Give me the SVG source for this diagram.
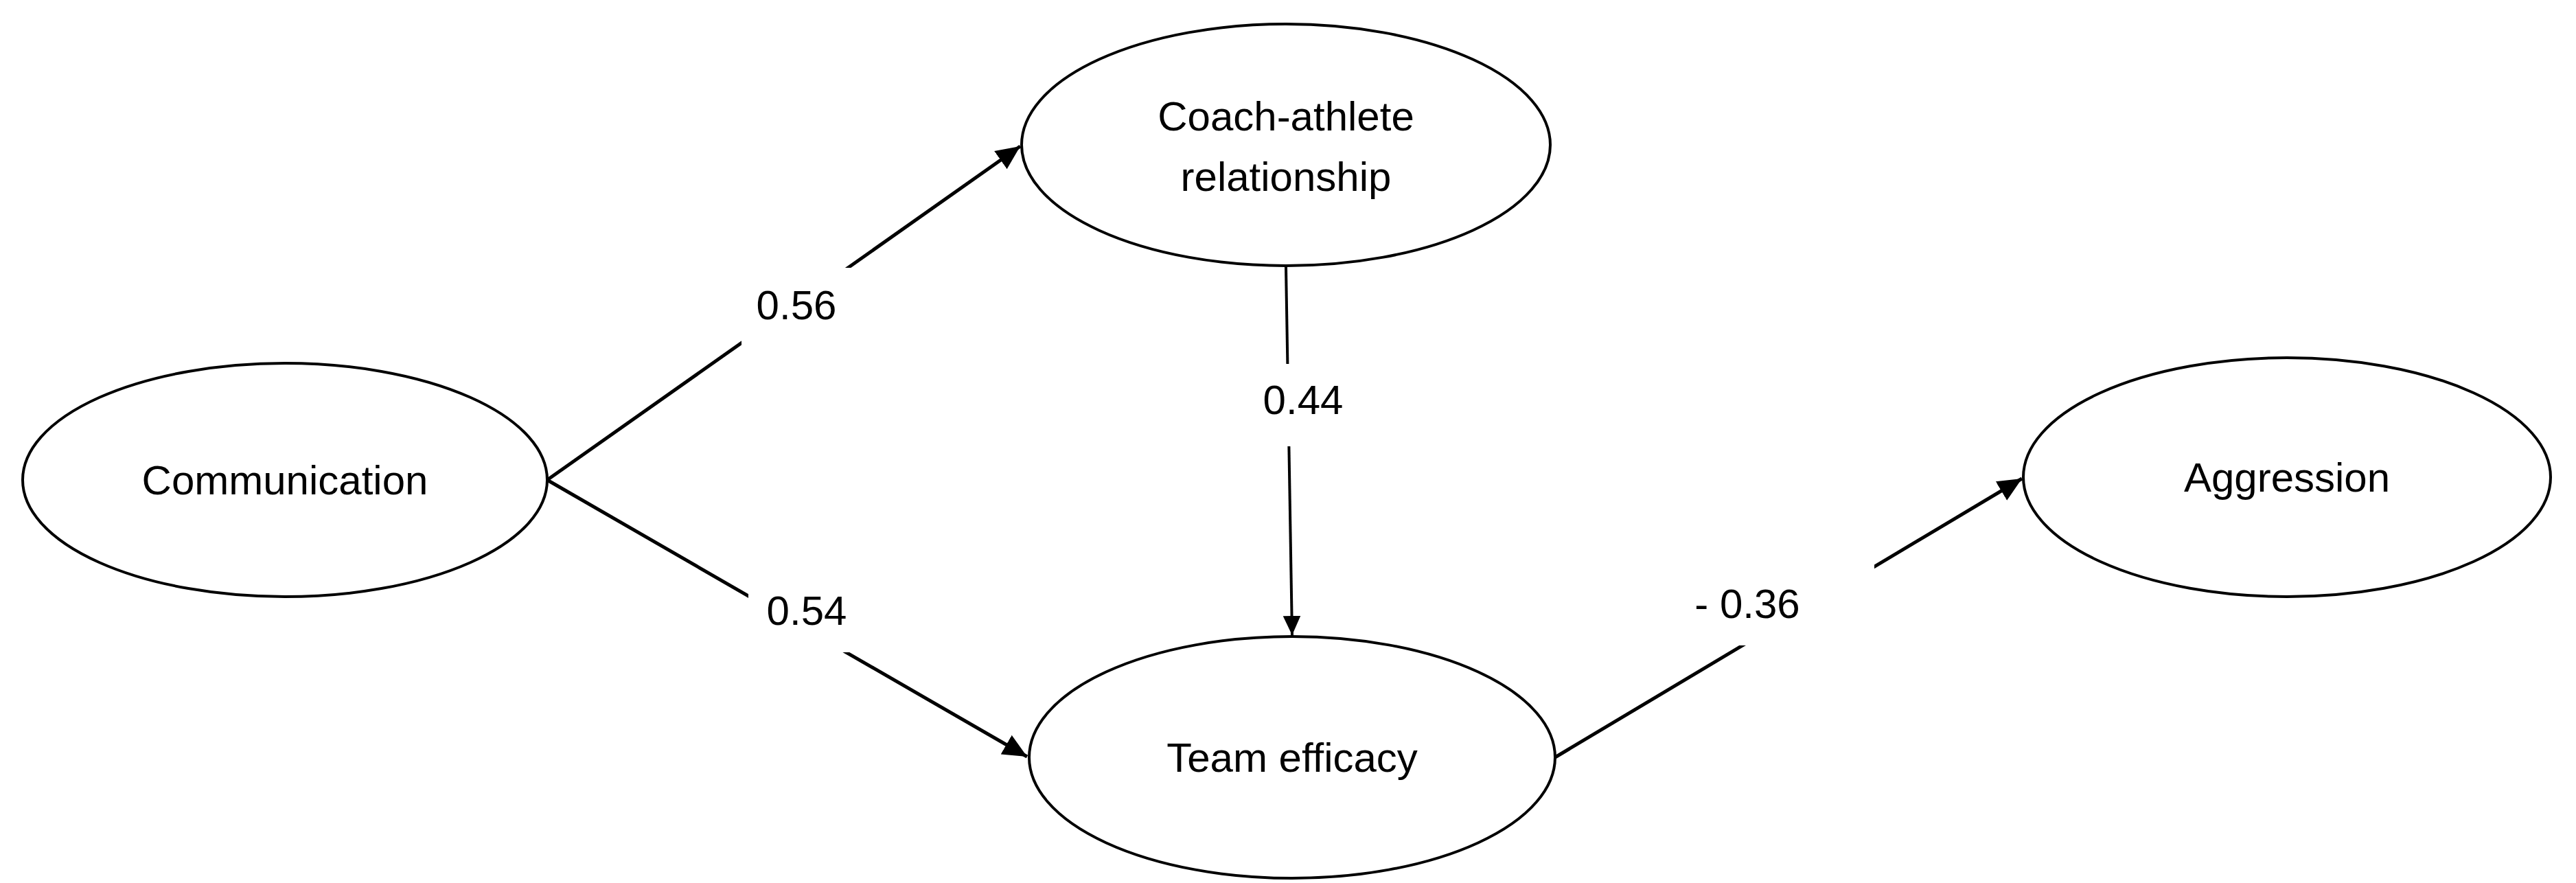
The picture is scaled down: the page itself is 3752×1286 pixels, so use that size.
<svg xmlns="http://www.w3.org/2000/svg" width="3752" height="1286" viewBox="0 0 3752 1286">
<defs>
<marker id="ah" markerWidth="8" markerHeight="8" refX="7" refY="4" orient="auto" markerUnits="strokeWidth"><path d="M0,0.8 L7,4 L0,7.2 z" fill="#000"/></marker>
<style>
.n{fill:#fff;stroke:#000;stroke-width:4}
.t{font-family:"Liberation Sans",Arial,sans-serif;font-size:60px;text-anchor:middle;fill:#000}
.c{stroke:#000;stroke-width:5;fill:none}
.bg{fill:#fff}
</style>
</defs>
<rect width="3752" height="1286" fill="#fff"/>
<g id="connectors">
<line class="c" x1="797" y1="699" x2="1486" y2="213" marker-end="url(#ah)"/>
<line class="c" x1="797" y1="699" x2="1496" y2="1102" marker-end="url(#ah)"/>
<line class="c" x1="1873" y1="388" x2="1882" y2="925" marker-end="url(#ah)" style="stroke-width:4"/>
<line class="c" x1="2265" y1="1103" x2="2945" y2="697" marker-end="url(#ah)"/>
<rect class="bg" x="1080" y="390" width="170" height="120"/>
<rect class="bg" x="1090" y="830" width="170" height="120"/>
<rect class="bg" x="1810" y="530" width="170" height="120"/>
<rect class="bg" x="2510" y="800" width="220" height="140"/>
<text class="t" x="1160" y="465">0.56</text>
<text class="t" x="1175" y="910">0.54</text>
<text class="t" x="1898" y="603">0.44</text>
<text class="t" x="2545" y="900">- 0.36</text>
</g>
<g id="communication"><ellipse class="n" cx="415" cy="699" rx="382" ry="170"/><text class="t" x="415" y="720">Communication</text></g>
<g id="coach"><ellipse class="n" cx="1873" cy="211" rx="385" ry="176"/><text class="t" x="1873" y="190">Coach-athlete</text><text class="t" x="1873" y="278">relationship</text></g>
<g id="team"><ellipse class="n" cx="1882" cy="1103" rx="383" ry="176"/><text class="t" x="1882" y="1124">Team efficacy</text></g>
<g id="aggression"><ellipse class="n" cx="3331" cy="695" rx="384" ry="174"/><text class="t" x="3331" y="716">Aggression</text></g>
</svg>
